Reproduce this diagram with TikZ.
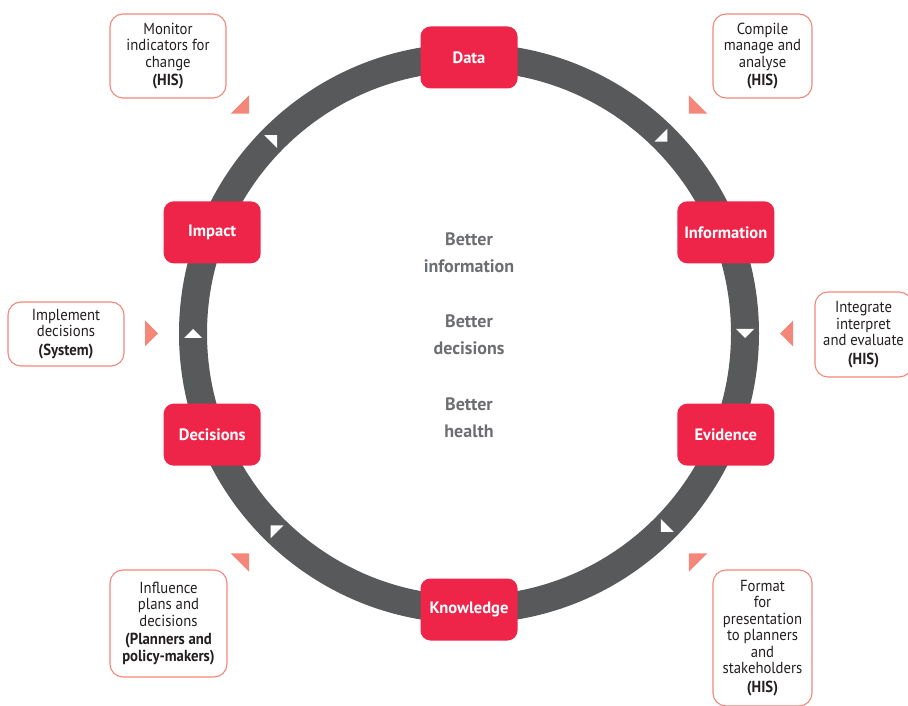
\documentclass[tikz,border=0pt]{standalone}
\usepackage{fontspec}
\setmainfont{PT Sans}
\newfontfamily\notefont{PT Sans}[FakeStretch=0.92]
\usetikzlibrary{calc}

\definecolor{stagered}{HTML}{EE2449}
\definecolor{ringgray}{HTML}{58595B}
\definecolor{notepink}{HTML}{F4877A}
\definecolor{textgray}{HTML}{6D6E71}
\definecolor{notetext}{HTML}{231F20}

\tikzset{
	stage/.style={fill=stagered, rounded corners=10pt, minimum width=97pt, minimum height=62pt, text=white, font=\bfseries\fontsize{16.5}{19}\selectfont},
	note/.style={draw=notepink, line width=1.1pt, fill=white, rounded corners=13pt, align=center, text=notetext, inner sep=0pt, font=\notefont\fontsize{16}{16.5}\selectfont},
	better/.style={align=center, text=textgray, font=\bfseries\fontsize{18}{27}\selectfont},
}

\begin{document}
\begin{tikzpicture}[x=1pt,y=1pt]
	\useasboundingbox (0,0) rectangle (908,705);
	\clip (0,0) rectangle (908,705);
	\coordinate (c) at (469,371.5);

	% ring with its arrow marks
	\draw[ringgray, line width=28pt] (c) circle (276pt);
	\foreach \a in {0,45,135,180,225,315} {
		\fill[white, shift={(c)}, rotate=\a] (267,4.5) -- (285,4.5) -- (276,-4.5) -- cycle;
		\fill[notepink, shift={(c)}, rotate=\a] (311,0) -- (324,13) -- (324,-13) -- cycle;
	}

	\node[stage] (data) at ($(c)+(90:276pt)$) {Data};
	\node[stage] (information) at ($(c)+(21.5:276pt)$) {Information};
	\node[stage] (evidence) at ($(c)+(-21.5:276pt)$) {Evidence};
	\node[stage] (knowledge) at ($(c)+(-90:276pt)$) {Knowledge};
	\node[stage] (decisions) at ($(c)+(201.5:276pt)$) {Decisions};
	\node[stage] (impact) at ($(c)+(158.5:276pt)$) {Impact};

	\node[better] (info) at (469,452) {Better\\information};
	\node[better] (dec) at (469,370) {Better\\decisions};
	\node[better] (health) at (469,287) {Better\\health};

	% callouts
	\node[note, minimum width=116pt, minimum height=84pt] (monitor) at (168,649) {Monitor\\indicators for\\change\\[2pt]\textbf{(HIS)}};
	\node[note, minimum width=99pt, minimum height=84pt] (compile) at (762.5,649) {Compile\\manage and\\analyse\\[2pt]\textbf{(HIS)}};
	\node[note, minimum width=97pt, minimum height=85pt] (integrate) at (863.5,370.5) {Integrate\\interpret\\and evaluate\\[2pt]\textbf{(HIS)}};
	\node[note, minimum width=116pt, minimum height=64pt] (implement) at (66,371) {Implement\\decisions\\[2pt]\textbf{(System)}};
	\node[note, minimum width=117pt, minimum height=107pt] (influence) at (168.5,81.5) {Influence\\plans and\\decisions\\[2pt]\textbf{(Planners and}\\\textbf{policy-makers)}};
	\node[note, minimum width=99pt, minimum height=136pt] (format) at (762.5,67) {Format\\for\\presentation\\to planners\\and\\stakeholders\\[2pt]\textbf{(HIS)}};
\end{tikzpicture}
\end{document}
